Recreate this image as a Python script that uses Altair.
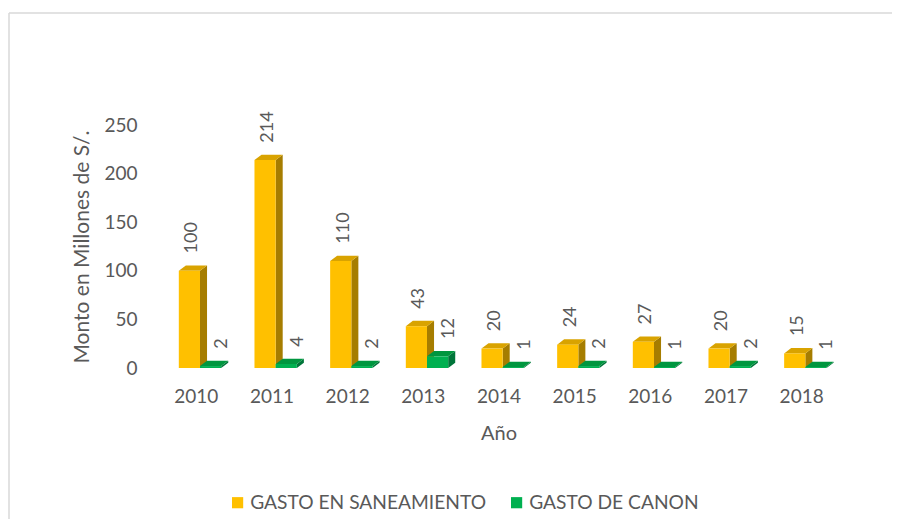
import altair as alt
import pandas as pd

years = ["2010", "2011", "2012", "2013", "2014", "2015", "2016", "2017", "2018"]
saneamiento = [100, 214, 110, 43, 20, 24, 27, 20, 15]
canon = [2, 4, 2, 12, 1, 2, 1, 2, 1]
series_names = ["GASTO EN SANEAMIENTO", "GASTO DE CANON"]

front_colors = ["#FFC000", "#00B050"]
side_colors = ["#A67D00", "#00753A"]
top_colors = ["#D9A300", "#00963F"]

# bar geometry in category units (style constants)
BAR_W = 0.28
DEPTH_X = 0.093
DEPTH_Y = 5.5
starts = [-0.225, -0.225 + BAR_W]
label_shift = [0.18, 0.29]

fronts, sides, tops, labels = [], [], [], []
for s, (name, vals) in enumerate(zip(series_names, [saneamiento, canon])):
    for i, v in enumerate(vals):
        x0 = i + starts[s]
        x1 = x0 + BAR_W
        bid = f"{s}-{i}"
        fronts.append(dict(series=name, x0=x0, x1=x1, y0=0, y1=v))
        sides += [
            dict(series=name, bid=bid, x=x1, lo=0, hi=v),
            dict(series=name, bid=bid, x=x1 + DEPTH_X, lo=DEPTH_Y, hi=v + DEPTH_Y),
        ]
        tops += [
            dict(series=name, bid=bid, x=x0, lo=v, hi=v),
            dict(series=name, bid=bid, x=x0 + DEPTH_X, lo=v, hi=v + DEPTH_Y),
            dict(series=name, bid=bid, x=x1, lo=v, hi=v + DEPTH_Y),
            dict(series=name, bid=bid, x=x1 + DEPTH_X, lo=v + DEPTH_Y, hi=v + DEPTH_Y),
        ]
        labels.append(dict(series=name, x=x0 + label_shift[s], y=v + DEPTH_Y, label=str(v)))

fronts = pd.DataFrame(fronts)
sides = pd.DataFrame(sides)
tops = pd.DataFrame(tops)
labels = pd.DataFrame(labels)

FONT = "Lato"
GREY = "#595959"

xscale = alt.Scale(domain=[-0.5, 8.5], nice=False, zero=False)
yscale = alt.Scale(domain=[0, 250], nice=False)
label_expr = "[" + ",".join(f"'{y}'" for y in years) + "][datum.value]"

xaxis = alt.Axis(values=list(range(len(years))), labelExpr=label_expr, title="Año",
                 labelPadding=19, titlePadding=17, titleFontSize=20)
yaxis = alt.Axis(values=[0, 50, 100, 150, 200, 250], title="Monto en  Millones de S/.",
                 labelPadding=21, titlePadding=11, titleFontSize=21)

side_layer = alt.Chart(sides).mark_area(opacity=1).encode(
    x=alt.X("x:Q", scale=xscale, axis=xaxis),
    y=alt.Y("lo:Q", scale=yscale, axis=yaxis),
    y2="hi:Q",
    detail="bid:N",
    color=alt.Color("series:N", scale=alt.Scale(domain=series_names, range=side_colors), legend=None),
)
top_layer = alt.Chart(tops).mark_area(opacity=1).encode(
    x=alt.X("x:Q", scale=xscale, axis=xaxis),
    y=alt.Y("lo:Q", scale=yscale, axis=yaxis),
    y2="hi:Q",
    detail="bid:N",
    color=alt.Color("series:N", scale=alt.Scale(domain=series_names, range=top_colors), legend=None),
)
front_layer = alt.Chart(fronts).mark_rect().encode(
    x=alt.X("x0:Q", scale=xscale, axis=xaxis),
    x2="x1:Q",
    y=alt.Y("y0:Q", scale=yscale, axis=yaxis),
    y2="y1:Q",
    color=alt.Color("series:N", scale=alt.Scale(domain=series_names, range=front_colors),
                    sort=series_names,
                    legend=alt.Legend(title=None, orient="none", legendX=70, legendY=368,
                                      direction="horizontal", symbolType="square",
                                      symbolSize=125, symbolStrokeWidth=0, labelFontSize=19.2,
                                      labelFont=FONT, labelColor=GREY, columnPadding=21,
                                      labelOffset=3, padding=0, labelLimit=0)),
)
text_layer = alt.Chart(labels).mark_text(angle=270, align="left", baseline="middle",
                                         dx=12, fontSize=18, font=FONT, color=GREY).encode(
    x=alt.X("x:Q", scale=xscale, axis=xaxis),
    y=alt.Y("y:Q", scale=yscale, axis=yaxis),
    text="label:N",
)

border = alt.Chart(pd.DataFrame({"k": [0]})).mark_rule(color="#D9D9D9", strokeWidth=1.5).encode(
    x=alt.value(-149), x2=alt.value(740), y=alt.value(-112), y2=alt.value(-112))
border_left = alt.Chart(pd.DataFrame({"k": [0]})).mark_rule(color="#D9D9D9", strokeWidth=1.5).encode(
    x=alt.value(-149), y=alt.value(-112), y2=alt.value(400))

chart = alt.layer(side_layer, top_layer, front_layer, text_layer, border, border_left).resolve_scale(
    color="independent"
).properties(
    width=681, height=243,
    autosize=alt.AutoSizeParams(type="none"),
    padding={"left": 150, "top": 117, "right": 53, "bottom": 151},
).configure(background="white").configure_view(strokeWidth=0, stroke="transparent").configure_axis(
    domain=False, ticks=False, grid=False,
    labelFontSize=19, titleFontSize=19, labelColor=GREY, titleColor=GREY,
    labelFont=FONT, titleFont=FONT, titleFontWeight="normal",
)

chart.save("out.html", embed_options={"renderer": "svg", "actions": False})
